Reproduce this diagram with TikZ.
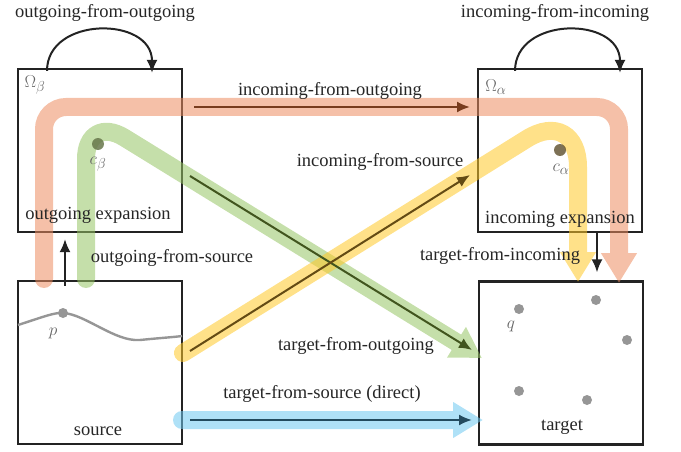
\documentclass[tikz,border=0pt]{standalone}
\usepackage{fontspec}
\setmainfont{Liberation Serif}
\usetikzlibrary{arrows.meta}
\definecolor{bandorange}{RGB}{236,140,96}
\definecolor{bandgreen}{RGB}{150,196,100}
\definecolor{bandyellow}{RGB}{255,200,40}
\definecolor{bandblue}{RGB}{110,200,240}
\definecolor{darkbrown}{RGB}{120,60,30}
\definecolor{darkgreen}{RGB}{65,85,30}
\definecolor{darkolive}{RGB}{100,75,20}
\definecolor{darkteal}{RGB}{35,75,95}
\definecolor{boxline}{RGB}{35,35,35}
\definecolor{ptgrey}{RGB}{150,150,150}
\definecolor{labgrey}{RGB}{100,100,100}
\tikzset{
  region/.style={draw=boxline, line width=2.2pt, minimum width=164pt, minimum height=163pt, inner sep=0pt},
  band/.style={line width=18pt, line cap=round, -{Triangle[length=30pt,width=34pt]}},
  flow/.style={line width=2pt, -{Latex[length=13pt,width=11pt]}},
  txt/.style={inner sep=0pt, text=black!85},
  sym/.style={inner sep=0pt, text=labgrey, font=\fontsize{19}{21}\selectfont},
  pt/.style={circle, fill=ptgrey, inner sep=0pt, minimum size=10pt},
}
\begin{document}
\begin{tikzpicture}[x=1pt, y=-1pt, font=\fontsize{18.5}{20}\selectfont]
\useasboundingbox (0,0) rectangle (681,452);

% the four regions
\node[region] (outbox) at (100,150.5) {};
\node[region] (inbox)  at (560,150.5) {};
\node[region] (srcbox) at (100,362.5) {};
\node[region] (tgtbox) at (561,363)   {};

% broad translucent bands
\begin{scope}[transparency group, opacity=0.55]
  \draw[band, draw=bandorange, rounded corners=22pt]
    (44,279) -- (44,107) -- (619,107) -- (619,283);
\end{scope}
\begin{scope}[transparency group, opacity=0.55]
  \draw[band, draw=bandgreen, rounded corners=45pt]
    (86,279) -- (86,114) -- (482,358);
\end{scope}
\begin{scope}[transparency group, opacity=0.55]
  \draw[band, draw=bandyellow, rounded corners=60pt]
    (183,353) -- (578,107) -- (578,282);
\end{scope}
\begin{scope}[transparency group, opacity=0.55]
  \draw[band, draw=bandblue] (182,420) -- (483,420);
\end{scope}

% thin flow arrows
\coordinate (ioA) at (194,107);  \coordinate (ioB) at (470,107);
\coordinate (toA) at (190,176);  \coordinate (toB) at (472,350);
\coordinate (isA) at (190,351);  \coordinate (isB) at (470,175);
\coordinate (tsA) at (190,420);  \coordinate (tsB) at (472,420);
\draw[flow, draw=darkbrown] (ioA) -- (ioB);
\draw[flow, draw=darkgreen] (toA) -- (toB);
\draw[flow, draw=darkolive] (isA) -- (isB);
\draw[flow, draw=darkteal] (tsA) -- (tsB);

% short black arrows between stacked regions
\draw[flow, draw=boxline] ([xshift=-35pt,yshift=-6pt]srcbox.north) -- ([xshift=-35pt,yshift=-6pt]outbox.south);
\draw[flow, draw=boxline] ([xshift=37pt]inbox.south) -- ([xshift=36pt,yshift=8pt]tgtbox.north);

% self loops
\draw[flow, draw=boxline] ([xshift=-53pt,yshift=-3pt]outbox.north) .. controls (47,16) and (152,16) .. ([xshift=52pt,yshift=-5pt]outbox.north);
\draw[flow, draw=boxline] ([xshift=-45pt,yshift=-3pt]inbox.north) .. controls (515,16) and (620,16) .. ([xshift=60pt,yshift=-5pt]inbox.north);

% curve and points
\draw[ptgrey, line width=2.4pt] (18,325) .. controls (40,318) and (55,312) .. (63,313)
  .. controls (85,314) and (115,342) .. (140,340) .. controls (160,338) and (175,337) .. (182,336);
\node[pt] (p) at (63,313) {};
\node[sym] (plab) at (53,333) {$p$};
\node[pt] (q) at (519,309) {};
\node[sym] (qlab) at (511,326) {$q$};
\node[pt] (t1) at (596,300) {};
\node[pt] (t2) at (627,340) {};
\node[pt] (t3) at (519,391) {};
\node[pt] (t4) at (587,400) {};
\node[circle, fill=darkgreen!80, opacity=0.85, inner sep=0pt, minimum size=12pt] (cb) at (98,144) {};
\node[sym] (cblab) at (98,164) {$c_\beta$};
\node[circle, fill=darkolive!70!black, opacity=0.7, inner sep=0pt, minimum size=12pt] (ca) at (560,150) {};
\node[sym] (calab) at (561,169) {$c_\alpha$};
\node[sym] (ob) at (35,85) {$\Omega_\beta$};
\node[sym] (oa) at (496,87) {$\Omega_\alpha$};

% labels
\node[txt] (l1) at (105,13)  {outgoing-from-outgoing};
\node[txt] (l2) at (555,13)  {incoming-from-incoming};
\node[txt] (l3) at (330,91)  {incoming-from-outgoing};
\node[txt] (l4) at (380,162) {incoming-from-source};
\node[txt] (l5) at (172,258) {outgoing-from-source};
\node[txt] (l6) at (500,256) {target-from-incoming};
\node[txt] (l7) at (356,346) {target-from-outgoing};
\node[txt] (l8) at (322,394) {target-from-source (direct)};
\node[txt] (l9) at (98,215)  {outgoing expansion};
\node[txt] (l10) at (560,219) {incoming expansion};
\node[txt] (l11) at (98,431) {source};
\node[txt] (l12) at (562,427) {target};
\end{tikzpicture}
\end{document}
